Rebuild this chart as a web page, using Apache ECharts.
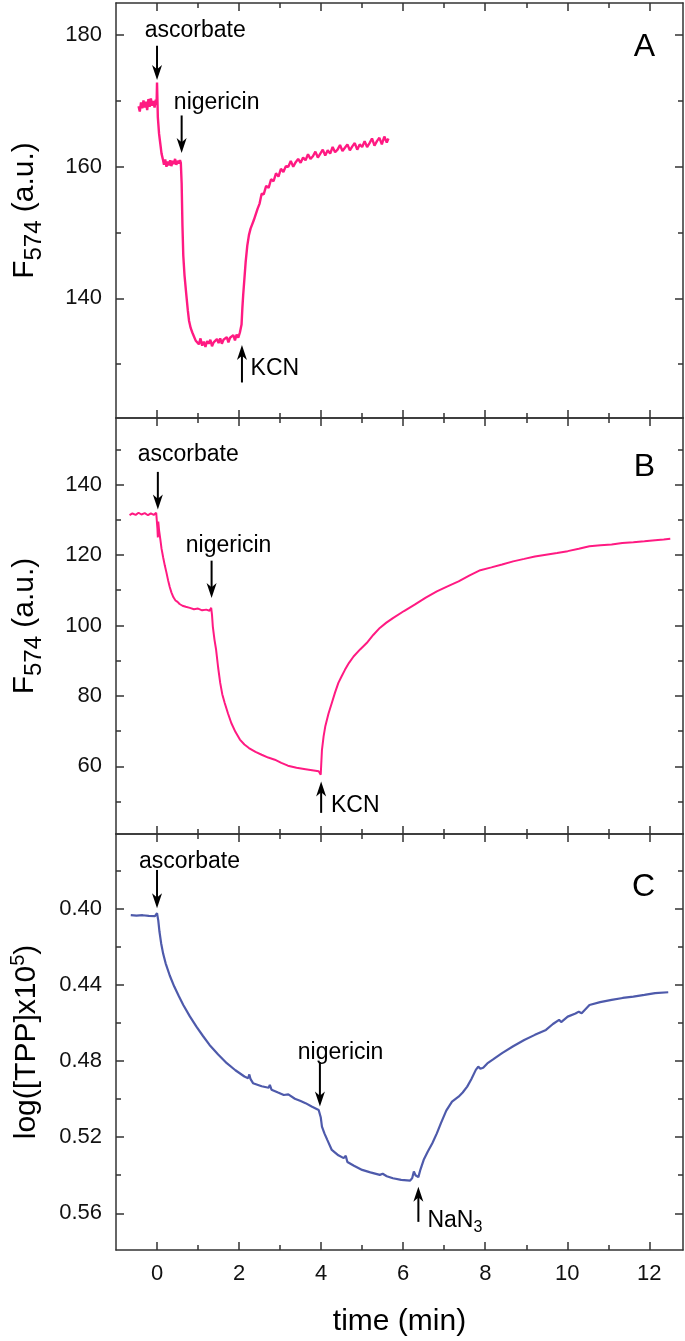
<!DOCTYPE html>
<html><head><meta charset="utf-8">
<script src="https://cdn.jsdelivr.net/npm/echarts@6/dist/echarts.min.js"></script>
<style>html,body{margin:0;padding:0;background:#fff}#c{width:685px;height:1341px}</style>
</head><body><div id="c"></div>
<script>
// ---------------- DATA ----------------
const xMajor = [0, 2, 4, 6, 8, 10, 12];
const xMinor = [1, 3, 5, 7, 9, 11];
const yMajorA = [140, 160, 180];
const yMinorA = [130, 150, 170];
const yMajorB = [60, 80, 100, 120, 140];
const yMinorB = [50, 70, 90, 110, 130, 150];
const yMajorC = [0.40, 0.44, 0.48, 0.52, 0.56];
const yMinorC = [0.38, 0.42, 0.46, 0.50, 0.54];

// Panel A: time (min), F574
const seriesA = [
[-0.45,169.2],[-0.42,168.4],[-0.39,169.8],[-0.36,168.9],[-0.33,170.1],[-0.30,169.0],[-0.27,169.9],[-0.24,168.6],
[-0.21,170.3],[-0.18,169.1],[-0.15,170.4],[-0.12,169.3],[-0.09,170.0],[-0.06,169.0],[-0.03,170.2],[-0.01,169.6],
[0.00,172.8],[0.02,167.5],[0.05,165.0],[0.08,163.5],[0.11,162.0],[0.14,161.2],[0.17,160.3],[0.20,161.1],
[0.23,160.0],[0.26,160.8],[0.29,160.2],[0.32,161.0],[0.35,160.1],[0.38,160.9],[0.41,160.4],[0.44,161.2],
[0.47,160.3],[0.50,160.9],[0.53,160.5],[0.56,161.0],[0.58,160.6],
[0.60,157.5],[0.62,151.0],[0.64,146.5],[0.67,143.5],[0.71,140.8],[0.75,138.2],[0.78,136.6],[0.82,135.5],
[0.86,134.8],[0.90,134.2],[0.94,133.6],[0.98,133.9],
[1.02,133.0],[1.06,133.9],[1.10,132.8],[1.14,133.4],[1.18,132.6],[1.22,133.5],[1.26,133.1],[1.30,133.7],
[1.34,132.7],[1.38,133.3],[1.42,133.0],[1.46,133.8],[1.50,133.2],[1.54,133.9],[1.58,133.1],[1.62,133.7],
[1.66,133.4],[1.70,134.1],[1.74,133.3],[1.78,134.0],[1.82,133.7],[1.86,134.4],[1.90,133.6],[1.94,134.5],
[1.98,134.0],[2.02,134.8],[2.04,134.5],
[2.06,136.0],[2.08,138.5],[2.10,140.5],[2.13,143.0],[2.16,145.5],[2.20,148.0],[2.24,149.6],[2.28,150.6],
[2.32,150.9],[2.36,151.9],[2.40,152.0],[2.45,153.6],[2.50,154.4],[2.55,155.9],[2.60,155.8],[2.66,157.1],
[2.72,156.8],[2.78,158.1],[2.84,157.8],[2.90,159.0],[2.96,158.5],[3.02,159.7],[3.08,159.2],
[3.14,160.1],[3.20,160.0],[3.26,160.9],[3.32,160.0],[3.38,160.7],[3.44,161.2],[3.50,160.6],[3.56,161.4],
[3.62,161.0],[3.68,161.9],[3.74,161.2],[3.80,161.6],[3.86,162.3],[3.92,161.4],[3.98,162.0],[4.04,162.6],
[4.10,161.7],[4.16,162.5],[4.22,162.0],[4.28,163.0],[4.34,162.2],[4.40,162.6],[4.46,163.3],[4.52,162.4],
[4.58,162.9],[4.64,163.4],[4.70,162.5],[4.76,163.1],[4.82,163.6],[4.88,162.6],[4.94,163.4],[5.00,163.0],
[5.06,163.9],[5.12,163.0],[5.18,163.6],[5.24,164.3],[5.30,163.2],[5.36,163.9],[5.42,164.4],[5.48,163.4],
[5.54,164.6],[5.60,163.7],[5.64,164.3]
];

// Panel B
const seriesB = [
[-0.67,131.3],[-0.60,131.8],[-0.52,131.4],[-0.45,132.0],[-0.38,131.5],[-0.30,131.9],[-0.22,131.3],[-0.15,131.8],
[-0.08,131.4],[-0.02,132.0],[0.00,131.6],[0.01,127.5],[0.02,125.0],[0.03,129.5],[0.05,127.0],[0.08,124.5],
[0.11,121.8],[0.15,119.3],[0.19,117.0],[0.23,115.0],[0.27,112.8],[0.31,110.9],[0.35,109.4],[0.40,108.0],
[0.45,107.1],[0.50,106.7],[0.55,106.1],[0.62,105.6],[0.70,105.3],[0.80,105.0],[0.90,104.6],[1.00,104.8],
[1.10,104.3],[1.20,104.5],[1.28,104.2],[1.32,105.0],[1.34,103.0],[1.36,99.7],[1.40,96.0],[1.44,93.1],
[1.49,88.0],[1.54,83.7],[1.59,80.5],[1.65,78.0],[1.73,75.0],[1.81,72.3],[1.91,69.8],[2.02,67.6],
[2.13,66.2],[2.24,65.2],[2.40,64.1],[2.55,63.3],[2.71,62.5],[2.87,61.9],[3.03,61.0],[3.19,60.2],
[3.40,59.6],[3.62,59.2],[3.78,58.9],[3.94,58.6],[3.99,57.6],[4.00,60.0],[4.02,64.7],[4.06,68.5],
[4.10,71.3],[4.18,75.0],[4.26,78.0],[4.34,81.0],[4.42,83.7],[4.50,85.6],[4.58,87.4],[4.68,89.4],
[4.79,91.2],[4.95,93.2],[5.11,95.0],[5.27,97.3],[5.43,99.3],[5.59,100.8],[5.75,102.1],[6.02,104.1],
[6.28,105.9],[6.55,107.9],[6.82,109.7],[7.08,111.1],[7.35,112.5],[7.62,114.2],[7.88,115.7],[8.15,116.5],
[8.41,117.3],[8.68,118.2],[8.95,118.9],[9.21,119.6],[9.48,120.1],[9.75,120.6],[10.01,121.1],[10.28,121.8],
[10.54,122.5],[10.81,122.8],[11.08,123.0],[11.34,123.4],[11.61,123.6],[11.88,123.9],[12.14,124.2],[12.35,124.4],
[12.51,124.6]
];

// Panel C: log([TPP]x10^5)
const seriesC = [
[-0.64,0.4032],[-0.50,0.4035],[-0.35,0.4033],[-0.20,0.4036],[-0.05,0.4038],[0.00,0.4022],[0.03,0.4060],[0.06,0.4120],
[0.10,0.4180],[0.15,0.4236],[0.21,0.4286],[0.31,0.4350],[0.42,0.4408],[0.53,0.4458],[0.64,0.4505],[0.80,0.4565],
[0.96,0.4619],[1.12,0.4668],[1.28,0.4715],[1.49,0.4765],[1.70,0.4811],[1.91,0.4848],[2.13,0.4881],[2.22,0.4890],
[2.25,0.4870],[2.28,0.4895],[2.34,0.4916],[2.55,0.4932],[2.72,0.4940],[2.75,0.4925],[2.79,0.4950],[2.95,0.4965],
[3.09,0.4978],[3.20,0.4975],[3.36,0.4998],[3.50,0.5010],[3.62,0.5021],[3.78,0.5040],[3.94,0.5057],[3.96,0.5060],
[3.99,0.5095],[4.02,0.5144],[4.08,0.5180],[4.15,0.5214],[4.26,0.5267],[4.42,0.5295],[4.55,0.5310],[4.60,0.5298],
[4.64,0.5330],[4.80,0.5350],[5.00,0.5372],[5.20,0.5385],[5.43,0.5398],[5.50,0.5392],[5.60,0.5405],[5.75,0.5416],
[5.95,0.5424],[6.17,0.5428],[6.22,0.5415],[6.26,0.5380],[6.30,0.5400],[6.37,0.5410],[6.42,0.5370],[6.50,0.5319],
[6.60,0.5275],[6.71,0.5232],[6.82,0.5180],[6.92,0.5126],[7.05,0.5060],[7.19,0.5013],[7.27,0.5000],[7.35,0.4987],
[7.45,0.4965],[7.56,0.4934],[7.66,0.4895],[7.77,0.4846],[7.83,0.4829],[7.88,0.4840],[7.95,0.4835],[8.05,0.4812],
[8.20,0.4790],[8.41,0.4758],[8.68,0.4722],[8.95,0.4689],[9.21,0.4662],[9.48,0.4636],[9.65,0.4605],[9.80,0.4583],
[9.85,0.4595],[10.01,0.4566],[10.20,0.4550],[10.28,0.4540],[10.35,0.4548],[10.54,0.4505],[10.80,0.4490],[11.08,0.4478],
[11.35,0.4468],[11.61,0.4461],[11.88,0.4452],[12.14,0.4443],[12.46,0.4438]
];

// Annotation arrows: [time, tail value, tip value]
const arrowsA = [[0.0, 178.4, 173.2], [0.6, 167.8, 162.1], [2.07, 127.2, 132.9]];
const arrowsB = [[0.02, 143.6, 132.9], [1.33, 118.4, 107.8], [4.0, 46.8, 55.7]];
const arrowsC = [[0.0, 0.3795, 0.3996], [3.97, 0.4805, 0.5039], [6.37, 0.5645, 0.5460]];
// Annotation labels: [text, time at left edge, value at vertical centre]
const labelsA = [['ascorbate', -0.30, 180.7], ['nigericin', 0.41, 169.7], ['KCN', 2.28, 129.3]];
const labelsB = [['ascorbate', -0.47, 148.5], ['nigericin', 0.70, 122.7], ['KCN', 4.24, 48.8]];
const labelsC = [['ascorbate', -0.44, 0.3753], ['nigericin', 3.43, 0.4757], ['{a|NaN}{s|3}', 6.59, 0.5640]];

// ---------------- CHART ----------------
const FONT = "'Liberation Sans', Arial, sans-serif";
const AX = '#333';
const X_MIN = -1, X_MAX = 12.82;
const PINK = '#ff1a82', BLUE = '#4e5aab';

const panels = [
  {top: 3, height: 415, ymin: 121.8, ymax: 184.9, major: yMajorA, minor: yMinorA, inverse: false, data: seriesA, color: PINK, lw: 2.4,
   arrows: arrowsA, labels: labelsA, fmt: v => String(v), name: '{a|F}{s|574}{a| (a.u.)}'},
  {top: 418, height: 416, ymin: 40.8, ymax: 158.9, major: yMajorB, minor: yMinorB, inverse: false, data: seriesB, color: PINK, lw: 2,
   arrows: arrowsB, labels: labelsB, fmt: v => String(v), name: '{a|F}{s|574}{a| (a.u.)}'},
  {top: 834, height: 416, ymin: 0.3606, ymax: 0.5793, major: yMajorC, minor: yMinorC, inverse: true, data: seriesC, color: BLUE, lw: 2.2,
   arrows: arrowsC, labels: labelsC, fmt: v => v.toFixed(2), name: '{a|log([TPP]x10}{p|5}{a|)}'}
];
const letters = ['A', 'B', 'C'];
const letterTops = [31, 451, 871];

const nameRich = {
  a: {fontSize: 30, fontFamily: FONT, color: '#000'},
  s: {fontSize: 24, fontFamily: FONT, color: '#000', padding: [18, 0, 0, 0]},
  p: {fontSize: 20, fontFamily: FONT, color: '#000', padding: [0, 0, 18, 0]}
};

function arrowRender(params, api) {
  const t = api.value(0), a = api.value(1), b = api.value(2);
  const p1 = api.coord([t, a]), p2 = api.coord([t, b]);
  const dir = p2[1] > p1[1] ? 1 : -1;
  const hl = 15, hw = 5;
  return {type: 'group', children: [
    {type: 'line', shape: {x1: p1[0], y1: p1[1], x2: p2[0], y2: p2[1] - dir * hl * 0.6},
     style: {stroke: '#000', lineWidth: 2}},
    {type: 'polygon', shape: {points: [[p2[0], p2[1]], [p2[0] - hw, p2[1] - dir * hl], [p2[0], p2[1] - dir * hl * 0.72], [p2[0] + hw, p2[1] - dir * hl]]},
     style: {fill: '#000'}}
  ]};
}
function makeLabelRender(labels) {
  return function (params, api) {
    const L = labels[params.dataIndex];
    const p = api.coord([api.value(0), api.value(1)]);
    return {type: 'text', x: p[0], y: p[1], style: {
      text: L[0], fontSize: 23, fontFamily: FONT, fill: '#000', align: 'left', verticalAlign: 'middle',
      rich: {a: {fontSize: 23, fontFamily: FONT, fill: '#000'}, s: {fontSize: 16, fontFamily: FONT, fill: '#000', padding: [14, 0, 0, 0]}}
    }};
  };
}

const option = {animation: false, backgroundColor: '#fff', grid: [], xAxis: [], yAxis: [], series: [], title: []};
const lineStyle = {color: AX, width: 1.5};

panels.forEach((p, g) => {
  const isLast = g === 2;
  option.grid.push({left: 116, right: 2, top: p.top, height: p.height});
  const xi = option.xAxis.length, yi = option.yAxis.length;
  const xBase = {gridIndex: g, type: 'value', min: X_MIN, max: X_MAX, splitLine: {show: false}, silent: true};
  option.xAxis.push(Object.assign({}, xBase, {position: 'bottom',
    axisLine: {show: true, onZero: false, lineStyle},
    axisTick: {show: true, inside: true, length: 8, customValues: xMajor, lineStyle},
    axisLabel: {show: isLast, customValues: xMajor, fontSize: 22, fontFamily: FONT, color: '#111', margin: 13},
    name: isLast ? 'time (min)' : '', nameLocation: 'middle', nameGap: 57,
    nameTextStyle: {fontSize: 30, fontFamily: FONT, color: '#000'}}));
  option.xAxis.push(Object.assign({}, xBase, {position: 'bottom',
    axisLine: {show: false, onZero: false},
    axisTick: {show: true, inside: true, length: 5, customValues: xMinor, lineStyle},
    axisLabel: {show: false}}));
  option.xAxis.push(Object.assign({}, xBase, {position: 'top',
    axisLine: {show: true, onZero: false, lineStyle},
    axisTick: {show: true, inside: true, length: 8, customValues: xMajor, lineStyle},
    axisLabel: {show: false}}));
  option.xAxis.push(Object.assign({}, xBase, {position: 'top',
    axisLine: {show: false, onZero: false},
    axisTick: {show: true, inside: true, length: 5, customValues: xMinor, lineStyle},
    axisLabel: {show: false}}));

  const yBase = {gridIndex: g, type: 'value', min: p.ymin, max: p.ymax, inverse: p.inverse, splitLine: {show: false}, silent: true};
  option.yAxis.push(Object.assign({}, yBase, {position: 'left',
    axisLine: {show: true, onZero: false, lineStyle},
    axisTick: {show: true, inside: true, length: 8, customValues: p.major, lineStyle},
    axisLabel: {show: true, customValues: p.major, formatter: p.fmt, fontSize: 22, fontFamily: FONT, color: '#111', margin: 14},
    name: p.name, nameLocation: 'middle', nameGap: 70,
    nameTextStyle: {rich: nameRich}}));
  option.yAxis.push(Object.assign({}, yBase, {position: 'left',
    axisLine: {show: false, onZero: false},
    axisTick: {show: true, inside: true, length: 5, customValues: p.minor, lineStyle},
    axisLabel: {show: false}}));
  option.yAxis.push(Object.assign({}, yBase, {position: 'right',
    axisLine: {show: true, onZero: false, lineStyle},
    axisTick: {show: true, inside: true, length: 8, customValues: p.major, lineStyle},
    axisLabel: {show: false}}));
  option.yAxis.push(Object.assign({}, yBase, {position: 'right',
    axisLine: {show: false, onZero: false},
    axisTick: {show: true, inside: true, length: 5, customValues: p.minor, lineStyle},
    axisLabel: {show: false}}));

  option.series.push({type: 'line', xAxisIndex: xi, yAxisIndex: yi, data: p.data, showSymbol: false, symbol: 'none',
    lineStyle: {color: p.color, width: p.lw}, itemStyle: {color: p.color}, silent: true, z: 3});
  option.series.push({type: 'custom', xAxisIndex: xi, yAxisIndex: yi, data: p.arrows, renderItem: arrowRender, silent: true, z: 4});
  option.series.push({type: 'custom', xAxisIndex: xi, yAxisIndex: yi, data: p.labels.map(l => [l[1], l[2]]),
    renderItem: makeLabelRender(p.labels), silent: true, z: 4});

  option.title.push({text: letters[g], right: 30, top: letterTops[g], padding: 0,
    textStyle: {fontSize: 32, fontWeight: 'normal', fontFamily: FONT, color: '#000'}});
});

const chart = echarts.init(document.getElementById('c'), null, {renderer: 'canvas'});
chart.setOption(option);
</script>
</body></html>
